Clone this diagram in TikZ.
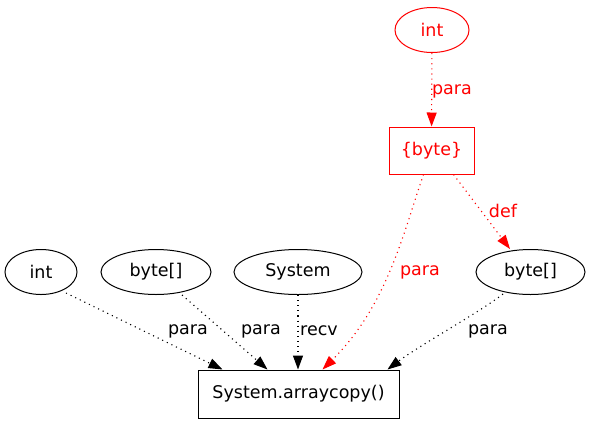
\documentclass[tikz,border=0pt]{standalone}
\usepackage{fontspec}
\setmainfont{DejaVu Sans}
\usetikzlibrary{shapes.geometric,arrows.meta}
\begin{document}
\begin{tikzpicture}[x=1pt,y=-1pt,
  every node/.style={font=\fontsize{17.5}{20}\selectfont, inner sep=0pt},
  ell/.style={ellipse, draw, line width=1pt, minimum height=45pt},
  boxn/.style={rectangle, draw, line width=1pt},
  edge/.style={line width=1.1pt, dash pattern=on 1.1pt off 4pt, -{Triangle[length=14pt,width=10pt]}},
  redc/.style={red, draw=red}
]
\useasboundingbox (0,0) rectangle (591,424);
% nodes
\node[ell, redc, text=red, minimum width=74pt] (i1) at (432,30) {int};
\node[boxn, redc, text=red, minimum width=85pt, minimum height=47pt] (b) at (431.5,150.5) {\{byte\}};
\node[ell, minimum width=72pt] (i2) at (41,272) {int};
\node[ell, minimum width=110pt] (a1) at (156,272) {byte[]};
\node[ell, minimum width=128pt] (s) at (298,272) {System};
\node[ell, minimum width=109pt] (a2) at (530.5,272) {byte[]};
\node[boxn, minimum width=201pt, minimum height=48pt] (c) at (298.5,394) {System.arraycopy()};
\coordinate (a2in) at (510,249);
% edges
\draw[edge, red] (i1) -- (b);
\draw[edge, red] ([xshift=22pt]b.south) -- (a2in);
\draw[edge, red] ([xshift=-8pt]b.south) .. controls (404,230) and (388,305) .. ([xshift=24pt]c.north);
\draw[edge] (66,293) -- ([xshift=-76pt]c.north);
\draw[edge] (182,295) -- ([xshift=-31pt]c.north);
\draw[edge] (s) -- (s |- c.north);
\draw[edge] (503,294) .. controls (480,312) and (420,345) .. ([xshift=89pt]c.north);
% labels
\node[text=red] (l1) at (452,91) {para};
\node[text=red] (l2) at (503,211) {def};
\node[text=red] (l3) at (420,272) {para};
\node (l4) at (188,331) {para};
\node (l5) at (261,331) {para};
\node (l6) at (319,331) {recv};
\node (l7) at (488,331) {para};
\end{tikzpicture}
\end{document}
